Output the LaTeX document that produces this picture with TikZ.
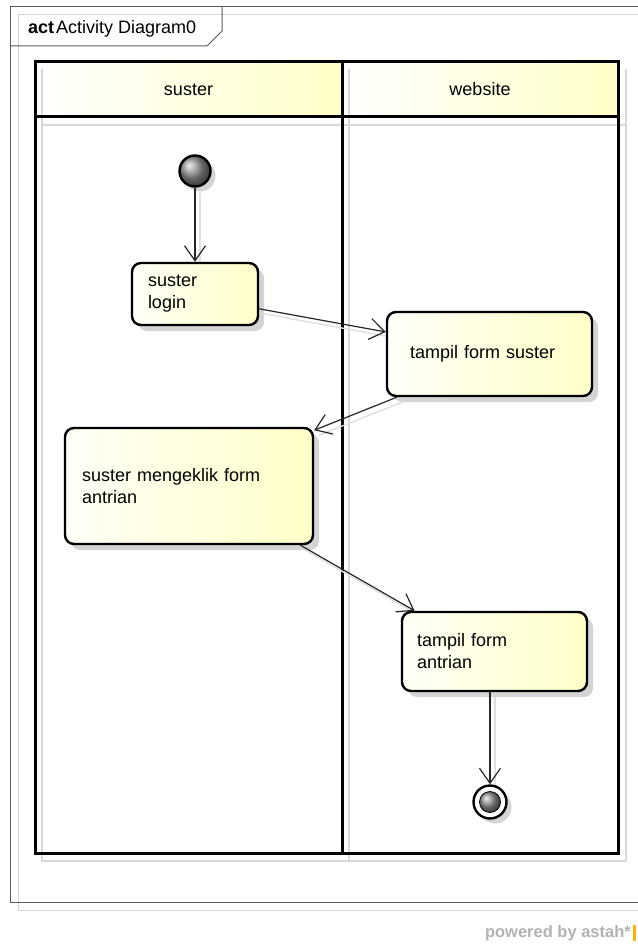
\documentclass[tikz,border=0pt]{standalone}
\usepackage{fontspec}
\setmainfont{Liberation Sans}
\usetikzlibrary{arrows.meta,shadows,calc}
\definecolor{boxyel}{HTML}{FFFFC8}
\definecolor{boxwhite}{HTML}{FFFFF8}
\definecolor{framegray}{HTML}{5A5A5A}
\definecolor{shadowgray}{HTML}{D4D4D4}
\definecolor{laneshadow}{HTML}{D8D8D8}
\pgfdeclarelayer{background}
\pgfsetlayers{background,main}
\begin{document}
\begin{tikzpicture}[x=1pt,y=-1pt,
  actbox/.style={draw=black, line width=2.4pt, rounded corners=9pt,
    left color=boxwhite, right color=boxyel, align=left,
    font=\fontsize{18}{22}\selectfont, inner ysep=0pt,
    drop shadow={shadow xshift=6pt, shadow yshift=-6pt, fill=shadowgray, opacity=1}},
  lanehead/.style={draw=black, line width=3pt, left color=white, right color=boxyel,
    minimum height=55pt, inner sep=0pt, font=\fontsize{18}{20}\selectfont},
  flow/.style={draw=black!85, line width=1.2pt,
    -{Straight Barb[length=15pt,width=21pt]}},
  eshadow/.style={draw=black!12, line width=1.4pt},
  lanesh/.style={draw=laneshadow, line width=2.5pt},
  framel/.style={draw=framegray, line width=1pt}
]
\useasboundingbox (0,0) rectangle (637,944);

% activity nodes
\node[actbox, text width=94pt, inner xsep=16pt, minimum height=62pt] (login) at (195,294) {suster\\login};
\node[actbox, text width=159pt, inner xsep=23pt, minimum height=84pt] (tfs) at (489.5,354) {tampil form suster};
\node[actbox, text width=214pt, inner xsep=17pt, minimum height=116pt] (klik) at (189,486) {suster mengeklik form\\antrian};
\node[actbox, text width=155pt, inner xsep=15pt, minimum height=79pt] (tfa) at (494.5,651.5) {tampil form\\antrian};

% initial and final nodes
\node[circle, draw=black, line width=2.4pt, minimum size=31pt, inner sep=0pt,
  shading=ball, ball color=gray!85,
  drop shadow={shadow xshift=5pt, shadow yshift=-5pt, fill=shadowgray, opacity=1}] (init) at (195,171) {};
\node[circle, draw=black, line width=2.4pt, minimum size=33pt, inner sep=0pt, fill=white,
  drop shadow={shadow xshift=5pt, shadow yshift=-5pt, fill=shadowgray, opacity=1}] (fin) at (490,802) {};
\node[circle, draw=black, line width=0.8pt, minimum size=21pt, inner sep=0pt,
  shading=ball, ball color=gray!85] (finin) at (fin) {};

\begin{pgfonlayer}{background}
  % frame
  \draw[draw=shadowgray, line width=1pt] (18,15) rectangle (660,910);
  \draw[framel] (10,7) rectangle (652,902);
  \draw[framel] (10,46) -- (207,46) -- (222,31) -- (222,7);
  % lane headers
  \node[lanehead, minimum width=307pt] (hs) at (188.5,89.5) {suster};
  \node[lanehead, minimum width=276pt] (hw) at (480,89.5) {website};
  % lane shadows
  \draw[lanesh] (42,69) -- (42,861) -- (626,861) -- (626,69);
  \draw[lanesh] (349,69) -- (349,861);
  \draw[lanesh] (42,125) -- (626,125);
  % lanes
  \draw[draw=black, line width=3pt] (35,62) rectangle (618,853);
  \draw[draw=black, line width=3pt] (342,62) -- (342,853);
  \draw[draw=black, line width=3pt] (35,117) -- (618,117);
  % edge shadows
  \begin{scope}[transform canvas={shift={(5pt,-5pt)}}]
    \draw[eshadow] (init) -- (login);
    \draw[eshadow] (login.-13) -- (tfs.168);
    \draw[eshadow] (tfs.205) -- (klik.24);
    \draw[eshadow] (klik.-28) -- (tfa.153);
    \draw[eshadow] (tfa.south -| fin.center) -- (fin);
  \end{scope}
\end{pgfonlayer}

% title tab
\node[anchor=west, inner sep=0pt, font=\fontsize{18}{20}\selectfont] (title) at (28,29) {\textbf{act}\kern2pt Activity Diagram0};

% flows
\draw[flow] (init) -- (login);
\draw[flow] (login.-13) -- (tfs.168);
\draw[flow] (tfs.205) -- (klik.24);
\draw[flow] (klik.-28) -- (tfa.153);
\draw[flow] (tfa.south -| fin.center) -- (fin);

% footer
\node[anchor=east, inner sep=0pt, font=\fontsize{16.5}{18}\selectfont\bfseries, text=black!30] (pw) at (631,933) {powered by astah*};
\fill[orange!60!yellow] (633,925) rectangle (636,941);
\end{tikzpicture}
\end{document}
